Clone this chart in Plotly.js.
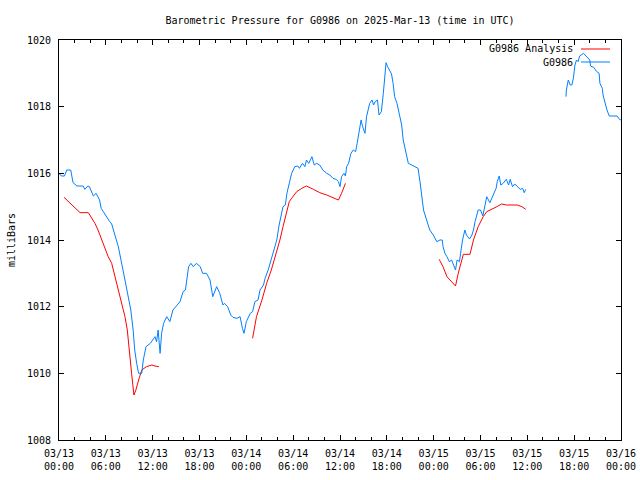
<!DOCTYPE html>
<html>
<head>
<meta charset="utf-8">
<script src="https://cdn.plot.ly/plotly-3.0.1.min.js"></script>
<style>html,body{margin:0;padding:0;background:#fff;}#chart{width:640px;height:480px;}</style>
</head>
<body>
<div id="chart"></div>
<script>
// hours since 2025-03-13 00:00 UTC
const obsHours = [0.0,0.3,0.7,1.0,1.5,1.8,2.3,3.1,3.3,3.7,3.9,4.4,4.75,5.2,5.4,5.9,6.5,6.75,7.2,7.6,8.2,8.6,8.9,9.2,9.5,9.7,9.95,10.2,10.6,10.8,11.15,11.7,12.3,12.5,12.7,12.95,13.15,13.4,13.8,14.2,14.6,15.1,15.5,15.9,16.2,16.6,16.9,17.2,17.6,18.1,18.4,18.9,19.35,19.7,20.2,20.6,21.0,21.2,21.6,22.0,22.3,22.8,23.2,23.5,23.7,24.0,24.5,24.8,25.1,25.5,25.75,26.2,26.4,26.8,27.2,27.7,27.9,28.2,28.5,28.7,29.0,29.2,29.5,29.8,30.2,30.6,30.8,31.2,31.5,31.7,32.0,32.4,32.7,33.0,33.4,33.8,34.3,34.7,35.1,35.5,35.8,36.0,36.2,36.5,36.7,36.85,37.1,37.4,37.7,38.0,38.2,38.4,38.7,38.9,39.2,39.4,39.6,39.8,40.1,40.3,40.5,40.8,41.0,41.3,41.55,41.7,41.9,42.1,42.4,42.6,42.8,43.0,43.3,43.5,43.7,43.9,44.1,44.3,44.5,44.75,45.2,45.6,46.0,46.25,46.45,46.7,47.1,47.5,47.95,48.4,48.8,49.1,49.2,49.45,49.7,50.0,50.3,50.5,50.8,51.0,51.3,51.45,51.7,52.0,52.2,52.6,52.9,53.1,53.3,53.7,54.0,54.3,54.6,54.8,55.2,55.5,55.7,56.0,56.15,56.4,56.6,56.9,57.3,57.6,57.8,58.1,58.4,58.7,59.1,59.4,59.6,59.8,62.0,64.95,65.0,65.25,65.5,65.7,65.9,66.1,66.3,66.5,66.7,67.2,67.6,68.0,68.1,68.5,68.9,69.2,69.3,69.6,69.7,69.95,70.2,70.5,71.0,71.5,71.8,72.0];
const obsPressure = [1016.0,1015.92,1015.92,1016.1,1016.1,1015.72,1015.62,1015.62,1015.52,1015.62,1015.6,1015.32,1015.4,1015.2,1014.95,1014.75,1014.55,1014.48,1014.1,1013.8,1013.1,1012.6,1012.3,1011.9,1011.3,1010.7,1010.3,1010.0,1010.0,1010.4,1010.8,1010.9,1011.1,1010.95,1011.3,1010.6,1011.2,1011.5,1011.7,1011.55,1011.9,1012.05,1012.15,1012.45,1012.5,1013.2,1013.3,1013.2,1013.3,1013.2,1013.0,1013.0,1012.8,1012.3,1012.6,1012.4,1012.05,1012.1,1012.0,1011.75,1011.68,1011.65,1011.7,1011.35,1011.2,1011.55,1011.8,1011.85,1012.15,1012.2,1012.5,1012.65,1012.85,1013.1,1013.4,1013.8,1014.0,1014.45,1014.8,1015.0,1015.05,1015.4,1015.7,1016.0,1016.2,1016.22,1016.15,1016.3,1016.2,1016.4,1016.3,1016.5,1016.25,1016.3,1016.25,1016.1,1016.0,1015.95,1015.85,1015.82,1015.75,1015.6,1015.9,1016.0,1015.92,1016.2,1016.3,1016.6,1016.7,1016.65,1016.9,1017.2,1017.6,1017.4,1017.2,1017.7,1017.9,1018.1,1018.2,1018.05,1018.15,1018.2,1017.75,1017.85,1018.4,1018.9,1019.32,1019.2,1019.05,1018.98,1018.7,1018.3,1018.1,1017.85,1017.6,1017.45,1017.0,1016.8,1016.6,1016.3,1016.25,1016.2,1016.15,1015.75,1015.3,1014.9,1014.6,1014.3,1014.15,1013.95,1014.0,1014.0,1013.8,1013.6,1013.5,1013.35,1013.4,1013.3,1013.1,1013.4,1013.35,1013.6,1014.0,1014.3,1014.15,1014.03,1014.15,1014.3,1014.55,1014.9,1014.9,1014.72,1015.05,1015.3,1015.12,1015.3,1015.4,1015.55,1015.75,1015.92,1015.65,1015.7,1015.82,1015.65,1015.82,1015.6,1015.68,1015.6,1015.52,1015.55,1015.42,1015.52,null,1018.3,1018.5,1018.8,1018.65,1018.65,1018.85,1019.25,1019.4,1019.35,1019.52,1019.6,1019.5,1019.4,1019.22,1019.18,1019.05,1019.0,1018.7,1018.55,1018.35,1018.1,1017.9,1017.72,1017.72,1017.72,1017.62,1017.6];

const anaHours = [0.64,1.4,2.27,2.7,3.76,4.2,4.6,5.0,5.5,5.9,6.3,6.75,7.2,7.6,8.0,8.45,8.75,8.9,9.1,9.3,9.6,9.85,10.2,10.6,11.2,11.9,12.3,12.8,18.0,24.8,25.3,26.0,26.6,27.2,27.9,28.3,28.7,29.2,29.5,29.8,30.45,31.1,31.7,32.6,33.4,34.3,35.1,35.8,36.2,36.7,42.0,48.7,49.2,49.7,50.3,50.8,51.15,51.45,51.8,52.65,53.1,53.7,54.35,54.8,55.5,56.1,56.7,57.3,58.7,59.3,59.8];
const anaPressure = [1015.28,1015.1,1014.9,1014.82,1014.82,1014.65,1014.5,1014.3,1014.0,1013.7,1013.5,1013.3,1012.9,1012.5,1012.1,1011.7,1011.3,1010.9,1010.5,1010.0,1009.35,1009.5,1009.8,1010.1,1010.2,1010.25,1010.22,1010.2,null,1011.05,1011.7,1012.2,1012.7,1013.1,1013.65,1014.0,1014.4,1014.85,1015.15,1015.25,1015.45,1015.55,1015.62,1015.52,1015.42,1015.35,1015.28,1015.2,1015.4,1015.7,null,1013.42,1013.2,1012.9,1012.75,1012.62,1013.0,1013.3,1013.57,1013.57,1014.0,1014.4,1014.7,1014.85,1014.92,1015.0,1015.08,1015.05,1015.05,1015.0,1014.92];

const xTickVals = [0,6,12,18,24,30,36,42,48,54,60,66,72];
const xTickText = ["03/13<br>00:00","03/13<br>06:00","03/13<br>12:00","03/13<br>18:00","03/14<br>00:00","03/14<br>06:00","03/14<br>12:00","03/14<br>18:00","03/15<br>00:00","03/15<br>06:00","03/15<br>12:00","03/15<br>18:00","03/16<br>00:00"];
const yTickVals = [1008,1010,1012,1014,1016,1018,1020];
const seriesNames = ["G0986 Analysis","G0986"];
const seriesColors = ["#ff0000","#0080ff"];

const FONT = "DejaVu Sans Mono, monospace";

const traces = [
  {x: anaHours, y: anaPressure, type: "scatter", mode: "lines", name: seriesNames[0],
   line: {color: seriesColors[0], width: 1}, connectgaps: false},
  {x: obsHours, y: obsPressure, type: "scatter", mode: "lines", name: seriesNames[1],
   line: {color: seriesColors[1], width: 1}, connectgaps: false}
];

// legend drawn gnuplot-style (text then sample line)
const W = 562, H = 400;
const px = v => (v - 59) / W;
const py = v => (440 - v) / H;

const layout = {
  width: 640, height: 480,
  margin: {l: 59, r: 19, t: 40, b: 40, pad: 0},
  paper_bgcolor: "#fff", plot_bgcolor: "#fff",
  showlegend: false,
  font: {family: FONT, size: 10, color: "#000"},
  title: {text: "Barometric Pressure for G0986 on 2025-Mar-13 (time in UTC)",
          xref: "paper", x: 0.5, xanchor: "center",
          yref: "container", y: 1 - 20/480, yanchor: "middle",
          font: {family: FONT, size: 10, color: "#000"}},
  xaxis: {range: [0, 72], tickvals: xTickVals, ticktext: xTickText,
          ticks: "inside", ticklen: 5, tickcolor: "#000", tickwidth: 1,
          showline: true, linecolor: "#000", linewidth: 1, mirror: "ticks",
          showgrid: false, zeroline: false, ticklabelstandoff: 4,
          minor: {dtick: 2, tick0: 0, ticks: "inside", ticklen: 3, tickcolor: "#000", showgrid: false},
          tickfont: {family: FONT, size: 10, color: "#000"}},
  yaxis: {range: [1008, 1020], tickvals: yTickVals,
          ticks: "inside", ticklen: 5, tickcolor: "#000", tickwidth: 1,
          showline: true, linecolor: "#000", linewidth: 1, mirror: "ticks",
          showgrid: false, zeroline: false, ticklabelstandoff: 5,
          tickfont: {family: FONT, size: 10, color: "#000"},
          title: {text: "milliBars", standoff: 9, font: {family: FONT, size: 10, color: "#000"}}},
  annotations: [
    {xref: "paper", yref: "paper", x: px(575), y: py(49), xanchor: "right", yanchor: "middle",
     text: seriesNames[0], showarrow: false, font: {family: FONT, size: 10, color: "#000"}},
    {xref: "paper", yref: "paper", x: px(575), y: py(62), xanchor: "right", yanchor: "middle",
     text: seriesNames[1], showarrow: false, font: {family: FONT, size: 10, color: "#000"}}
  ],
  shapes: [
    {type: "line", xref: "paper", yref: "paper", x0: px(581), x1: px(610), y0: py(49), y1: py(49),
     line: {color: seriesColors[0], width: 1}},
    {type: "line", xref: "paper", yref: "paper", x0: px(581), x1: px(610), y0: py(62), y1: py(62),
     line: {color: seriesColors[1], width: 1}}
  ]
};

Plotly.newPlot("chart", traces, layout, {staticPlot: true, displayModeBar: false});
</script>
</body>
</html>
